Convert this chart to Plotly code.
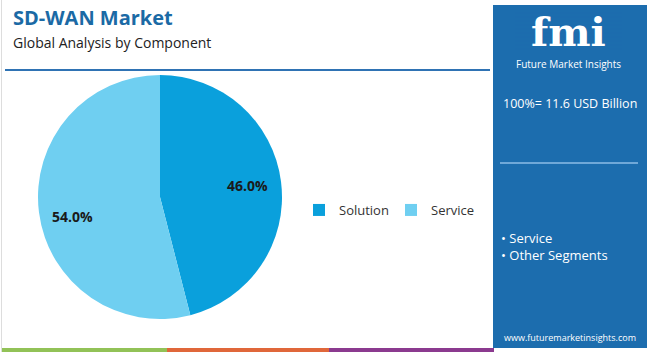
import math
import plotly.graph_objects as go

# Data
categories = ["Solution", "Service"]
shares = [46.0, 54.0]
colors = ["#0aa0dc", "#6fcff1"]
title_text = "SD-WAN Market"
subtitle_text = "Global Analysis by Component"
total_text = "100%= 11.6 USD Billion"
segments = ["Service", "Other Segments"]
site = "www.futuremarketinsights.com"

W, H = 650, 352
def px(x):
    return x / W
def py(y):
    return 1 - y / H

PANEL = "#1c6dae"
CX, CY, R = 160, 197, 122

fig = go.Figure()
fig.add_trace(go.Pie(
    labels=categories, values=shares, sort=False, direction="clockwise", rotation=0,
    marker=dict(colors=colors, line=dict(width=0)),
    textinfo="none",
    domain=dict(x=[px(CX - R), px(CX + R)], y=[py(CY + R), py(CY - R)]),
    hoverinfo="label+percent",
))

shapes = []
shapes.append(dict(type="rect", xref="paper", yref="paper", x0=px(493), x1=px(647), y0=py(348), y1=py(5),
                   fillcolor=PANEL, line=dict(width=0), layer="below"))
shapes.append(dict(type="line", xref="paper", yref="paper", x0=px(5), x1=px(490), y0=py(70), y1=py(70),
                   line=dict(color="#2f73b4", width=2)))
shapes.append(dict(type="line", xref="paper", yref="paper", x0=px(1.5), x1=px(1.5), y0=py(352), y1=py(0),
                   line=dict(color="#dddddd", width=1)))
shapes.append(dict(type="line", xref="paper", yref="paper", x0=px(500), x1=px(638), y0=py(163), y1=py(163),
                   line=dict(color="#6fa8d8", width=2)))
for c, a, b in [("#92c257", 2, 167), ("#e0673a", 167, 329), ("#8b3a8f", 329, 494)]:
    shapes.append(dict(type="rect", xref="paper", yref="paper", x0=px(a), x1=px(b), y0=py(352), y1=py(348),
                       fillcolor=c, line=dict(width=0)))

annotations = [
    dict(text=f"<b>{title_text}</b>", x=px(11), y=py(17), xanchor="left", yanchor="middle",
         font=dict(family="Open Sans", size=20, color="#1b6aa5")),
    dict(text=subtitle_text, x=px(11), y=py(42), xanchor="left", yanchor="middle",
         font=dict(family="Open Sans", size=14, color="#222222")),
    dict(text="<b>fmi</b>", x=px(568), y=py(31), xanchor="center", yanchor="middle",
         font=dict(family="DejaVu Serif", size=40, color="white")),
    dict(text="Future Market Insights", x=px(568), y=py(64), xanchor="center", yanchor="middle",
         font=dict(family="Open Sans", size=10, color="white")),
    dict(text=total_text, x=px(570), y=py(103), xanchor="center", yanchor="middle",
         font=dict(family="Open Sans", size=12.5, color="white")),
    dict(text="<br>".join("• " + s for s in segments), x=px(499), y=py(246), xanchor="left", yanchor="middle",
         align="left", font=dict(family="Open Sans", size=13, color="white")),
    dict(text=site, x=px(570), y=py(337), xanchor="center", yanchor="middle",
         font=dict(family="Open Sans", size=9, color="white")),
]

# slice labels placed from the data (mid-angle of each slice)
total = sum(shares)
cum = 0.0
for v in shares:
    mid = (cum + v / 2) / total * 2 * math.pi
    cum += v
    r = 0.72 * R
    lx = CX + r * math.sin(mid)
    ly = CY - r * math.cos(mid) + (8 if math.cos(mid) < 0.2 and math.sin(mid) < 0 else 0)
    annotations.append(dict(text=f"<b>{v:.1f}%</b>", x=px(lx), y=py(ly), xanchor="center", yanchor="middle",
                            font=dict(family="Open Sans", size=14, color="#1a1a1a")))

for a in annotations:
    a.update(xref="paper", yref="paper", showarrow=False)

for i in range(10):
    yy = 13 + i * 4
    shapes.append(dict(type="line", xref="paper", yref="paper", x0=px(515), x1=px(622), y0=py(yy), y1=py(yy),
                       line=dict(color=PANEL, width=1)))

fig.update_layout(
    width=W, height=H, margin=dict(l=0, r=0, t=0, b=0),
    paper_bgcolor="white", plot_bgcolor="white",
    shapes=shapes, annotations=annotations,
    showlegend=True,
    legend=dict(orientation="h", x=px(299), y=py(210), xanchor="left", yanchor="middle",
                itemwidth=30, entrywidth=47, entrywidthmode="pixels",
                font=dict(family="Open Sans", size=13, color="#333333"), bgcolor="rgba(0,0,0,0)"),
)
fig.write_html("out.html")
